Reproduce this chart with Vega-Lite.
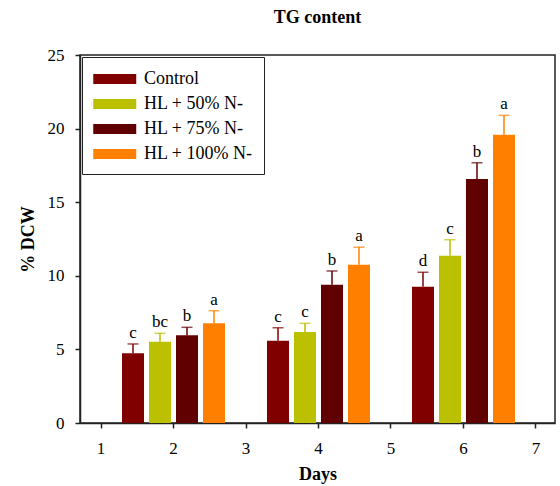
{
  "$schema": "https://vega.github.io/schema/vega-lite/v6.json",
  "width": 475,
  "height": 368,
  "autosize": "none",
  "padding": {"left": 80, "top": 55, "right": 5, "bottom": 63},
  "background": "white",
  "title": {"text": "TG content", "font": "Liberation Serif", "fontSize": 18, "fontWeight": "bold", "offset": 19, "color": "black", "anchor": "middle"},
  "config": {
    "view": {"stroke": "#222", "strokeWidth": 1.5},
    "font": "Liberation Serif",
    "axis": {"grid": false, "domainColor": "#222", "domainWidth": 1.5, "tickColor": "#222", "tickWidth": 1.5, "tickSize": 5, "labelFont": "Liberation Serif", "labelFontSize": 17, "labelColor": "black", "titleFont": "Liberation Serif", "titleFontSize": 18, "titleFontWeight": "bold", "titleColor": "black"}
  },
  "data": {"values": [
    {"day": 2, "group": "Control", "value": 4.73, "hi": 5.37, "letter": "c"},
    {"day": 2, "group": "HL + 50% N-", "value": 5.52, "hi": 6.09, "letter": "bc"},
    {"day": 2, "group": "HL + 75% N-", "value": 5.96, "hi": 6.50, "letter": "b"},
    {"day": 2, "group": "HL + 100% N-", "value": 6.77, "hi": 7.63, "letter": "a"},
    {"day": 4, "group": "Control", "value": 5.59, "hi": 6.47, "letter": "c"},
    {"day": 4, "group": "HL + 50% N-", "value": 6.18, "hi": 6.77, "letter": "c"},
    {"day": 4, "group": "HL + 75% N-", "value": 9.40, "hi": 10.33, "letter": "b"},
    {"day": 4, "group": "HL + 100% N-", "value": 10.75, "hi": 11.94, "letter": "a"},
    {"day": 6, "group": "Control", "value": 9.26, "hi": 10.24, "letter": "d"},
    {"day": 6, "group": "HL + 50% N-", "value": 11.37, "hi": 12.45, "letter": "c"},
    {"day": 6, "group": "HL + 75% N-", "value": 16.58, "hi": 17.68, "letter": "b"},
    {"day": 6, "group": "HL + 100% N-", "value": 19.59, "hi": 20.90, "letter": "a"}
  ]},
  "encoding": {
    "x": {"field": "day", "type": "ordinal", "title": "Days",
      "scale": {"type": "band", "domain": [1, 2, 3, 4, 5, 6, 7], "paddingInner": 1, "paddingOuter": 0.2759, "align": 0.525},
      "axis": {"labelAngle": 0, "labelPadding": 12, "titlePadding": 9}},
    "xOffset": {"field": "group", "type": "nominal", "sort": ["Control", "HL + 50% N-", "HL + 75% N-", "HL + 100% N-"],
      "scale": {"range": [-51.5, 51.5], "paddingInner": 0.185, "paddingOuter": 0}},
    "color": {"field": "group", "type": "nominal", "sort": ["Control", "HL + 50% N-", "HL + 75% N-", "HL + 100% N-"],
      "scale": {"domain": ["Control", "HL + 50% N-", "HL + 75% N-", "HL + 100% N-"], "range": ["#800000", "#BBC000", "#600000", "#FF8000"]},
      "legend": {"title": null, "orient": "none", "legendX": 2, "legendY": 2, "strokeColor": "#222", "fillColor": "white", "padding": 11,
        "symbolType": "M-1,-0.465H3V0.465H-1Z", "symbolSize": 462, "symbolStrokeWidth": 0, "symbolOpacity": 1,
        "labelFont": "Liberation Serif", "labelFontSize": 18, "labelColor": "black", "labelOffset": 29, "rowPadding": 5, "labelLimit": 300}}
  },
  "layer": [
    {"mark": {"type": "bar"},
     "encoding": {"y": {"field": "value", "type": "quantitative", "title": "% DCW", "stack": null,
       "scale": {"domain": [0, 25], "nice": false},
       "axis": {"values": [0, 5, 10, 15, 20, 25], "labelPadding": 11, "titlePadding": 10}}}},
    {"mark": {"type": "rule", "strokeWidth": 1.5},
     "encoding": {"y": {"field": "value", "type": "quantitative", "stack": null}, "y2": {"field": "hi"}}},
    {"mark": {"type": "tick", "orient": "horizontal", "size": 11, "thickness": 1.5},
     "encoding": {"y": {"field": "hi", "type": "quantitative", "stack": null}}},
    {"mark": {"type": "text", "dy": -6, "baseline": "alphabetic", "fontSize": 17, "font": "Liberation Serif"},
     "encoding": {"y": {"field": "hi", "type": "quantitative", "stack": null}, "text": {"field": "letter"}, "color": {"value": "black"}}}
  ]
}
